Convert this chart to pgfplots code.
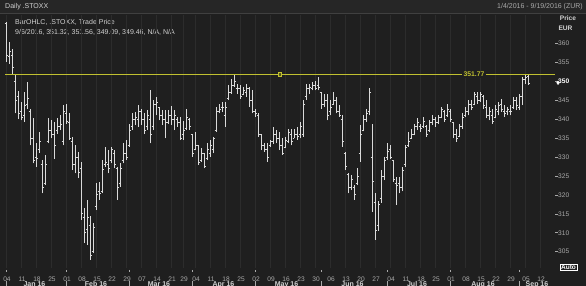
\documentclass[border=0pt]{standalone}
\usepackage{pgfplots}
\pgfplotsset{compat=1.18}
\usepackage{pgfplotstable}
\usepackage{fontspec}
\setmainfont{Liberation Sans}
\definecolor{bg}{RGB}{31,31,31}
\definecolor{hdr}{RGB}{38,38,38}
\definecolor{gridc}{RGB}{44,44,44}
\definecolor{barc}{RGB}{218,218,218}
\definecolor{lbl}{RGB}{170,170,170}
\definecolor{txt}{RGB}{210,210,210}
\definecolor{yel}{RGB}{192,192,48}
\pgfdeclareplotmark{otick}{\pgfpathmoveto{\pgfpoint{-1.5pt}{0pt}}\pgfpathlineto{\pgfpoint{0pt}{0pt}}\pgfusepathqstroke}
\pgfdeclareplotmark{ctick}{\pgfpathmoveto{\pgfpoint{0pt}{0pt}}\pgfpathlineto{\pgfpoint{1.5pt}{0pt}}\pgfusepathqstroke}
\pgfplotstableread{
i O H L C
0 365.2 365.6 355.1 356.8
1 356.5 360.3 354.6 357.8
2 356.8 358.6 352.0 353.6
3 350.0 351.6 341.5 345.0
4 346.0 347.5 340.0 341.5
5 342.0 344.5 339.7 340.5
6 341.0 347.2 339.3 343.5
7 344.0 349.8 342.8 345.5
8 342.0 342.8 333.1 335.0
9 335.0 340.2 328.3 329.0
10 330.0 333.6 327.4 329.5
11 332.0 336.7 331.0 334.0
12 328.0 329.2 320.4 322.0
13 323.0 330.5 322.6 328.0
14 334.0 340.2 333.6 337.0
15 337.0 339.7 334.9 336.0
16 336.0 339.3 329.6 333.0
17 337.0 340.2 336.2 338.0
18 338.0 341.0 337.1 338.5
19 334.0 343.7 333.1 342.0
20 341.5 344.1 338.8 339.5
21 339.0 341.5 334.5 335.0
22 334.0 335.3 326.6 328.0
23 328.0 333.1 325.7 330.0
24 330.0 331.4 324.4 326.0
25 327.0 328.8 313.4 315.0
26 314.0 316.5 307.3 310.0
27 311.0 318.7 306.8 314.0
28 312.0 314.3 302.9 304.0
29 305.0 312.5 304.6 311.5
30 317.0 323.1 316.0 320.0
31 321.0 323.5 318.7 320.5
32 321.0 329.2 320.4 326.6
33 328.0 332.7 327.4 328.5
34 328.0 331.8 325.7 327.0
35 329.0 332.7 328.3 332.0
36 331.0 331.8 327.0 328.0
37 327.0 327.4 318.7 322.0
38 323.0 328.3 322.2 327.0
39 329.0 333.6 328.3 331.0
40 331.0 334.5 329.2 330.0
41 333.0 338.8 332.7 337.0
42 338.0 341.5 337.1 340.0
43 340.0 341.9 338.4 340.5
44 340.0 343.7 338.0 342.0
45 342.0 342.8 338.4 340.0
46 340.0 341.5 336.2 337.0
47 338.0 342.4 337.1 341.0
48 340.0 347.6 333.6 336.0
49 338.0 345.0 337.1 344.0
50 344.0 345.9 341.0 344.5
51 343.0 343.2 339.7 341.0
52 341.0 342.4 338.4 340.0
53 340.0 342.4 334.9 339.0
54 339.0 342.4 338.8 341.0
55 341.0 343.4 338.4 340.0
56 340.0 342.4 337.1 341.0
57 340.0 340.6 338.0 339.0
58 339.0 340.6 334.5 335.0
59 336.0 339.5 334.5 337.0
60 337.5 342.8 337.1 340.5
61 340.0 340.2 337.1 338.0
62 336.0 336.2 330.1 331.0
63 332.0 336.7 331.8 333.0
64 333.0 333.1 327.9 328.5
65 329.0 332.3 328.8 331.0
66 331.0 331.0 327.0 327.5
67 329.5 333.6 329.2 332.0
68 331.0 334.5 330.1 333.0
69 332.0 335.3 331.0 335.0
70 337.0 343.2 336.7 342.0
71 342.0 344.1 341.5 342.5
72 343.0 344.5 341.9 343.0
73 341.0 344.5 338.0 343.0
74 345.5 348.9 345.0 347.0
75 347.0 350.7 346.7 349.0
76 349.0 351.6 348.5 350.0
77 348.0 349.4 346.7 348.0
78 348.0 348.9 345.4 346.0
79 346.5 348.5 346.3 347.5
80 347.0 349.4 345.9 348.0
81 348.0 348.5 343.2 345.0
82 345.0 347.6 341.5 342.0
83 342.0 342.8 340.6 341.5
84 341.0 341.5 335.3 336.0
85 336.0 336.2 331.8 333.0
86 333.0 333.6 331.4 332.0
87 332.0 333.6 328.8 330.0
88 333.0 334.5 332.7 334.0
89 334.0 338.0 333.5 336.0
90 336.0 337.1 333.6 335.0
91 335.0 336.7 331.8 333.0
92 333.0 334.9 330.5 331.0
93 332.5 335.3 332.3 334.5
94 334.0 337.5 333.6 336.5
95 336.0 337.5 333.1 334.0
96 335.0 337.5 334.9 336.0
97 336.0 338.0 334.5 335.5
98 336.0 339.3 334.9 338.0
99 336.0 345.0 335.3 344.0
100 346.0 349.4 345.0 348.0
101 348.0 349.4 346.7 348.5
102 348.0 349.8 347.6 349.0
103 349.0 350.2 347.6 348.0
104 349.0 351.1 347.6 348.5
105 347.0 347.2 342.8 344.0
106 344.0 346.7 343.2 345.0
107 345.0 346.7 339.7 341.0
108 342.0 345.0 341.0 343.0
109 344.0 347.2 343.7 345.0
110 345.0 345.9 341.5 342.0
111 342.0 343.7 340.6 341.0
112 340.0 341.0 332.7 334.0
113 331.0 331.4 326.6 327.5
114 325.5 325.7 320.4 322.0
115 322.0 325.3 321.3 324.0
116 322.0 322.6 318.7 320.0
117 323.0 327.0 322.6 325.0
118 331.0 338.4 328.8 336.0
119 337.0 341.0 336.8 340.0
120 340.0 342.8 339.3 341.5
121 342.0 348.1 341.0 347.0
122 330.0 338.8 315.6 323.5
123 318.0 320.4 308.1 310.5
124 312.0 318.5 310.5 317.5
125 319.0 326.6 317.8 325.0
126 325.0 330.1 323.9 329.0
127 330.0 333.6 329.2 331.5
128 332.0 333.1 329.6 330.0
129 329.0 329.2 323.5 324.0
130 323.0 324.8 317.4 322.5
131 323.0 324.8 320.4 322.0
132 322.0 327.4 320.9 326.5
133 328.0 333.1 327.4 332.5
134 333.0 336.7 332.7 334.0
135 335.0 337.5 334.8 336.0
136 336.0 338.8 335.8 338.0
137 338.0 340.2 337.1 339.0
138 338.0 338.8 336.7 337.5
139 338.0 340.6 337.6 339.5
140 338.0 338.4 335.3 336.0
141 337.0 339.7 336.6 339.0
142 339.0 341.0 338.4 340.0
143 340.0 340.6 338.0 339.0
144 339.0 341.0 338.8 340.5
145 340.5 343.2 340.2 342.5
146 342.0 342.4 339.3 340.0
147 341.0 344.1 340.6 342.5
148 342.0 342.8 339.3 340.0
149 339.0 339.3 334.9 336.0
150 336.0 337.5 334.0 335.0
151 335.5 338.8 335.3 338.0
152 338.0 341.5 337.5 340.5
153 341.0 343.2 340.6 342.0
154 342.0 345.0 341.0 344.0
155 344.0 345.0 342.4 343.0
156 344.0 347.2 343.7 346.5
157 346.0 347.2 344.1 345.0
158 345.0 347.2 344.5 346.5
159 346.0 346.3 342.8 343.5
160 343.0 345.0 340.2 341.0
161 341.0 343.2 339.7 342.0
162 341.0 342.8 338.8 339.5
163 340.5 343.7 340.2 342.5
164 342.0 344.5 341.0 343.5
165 344.0 345.4 341.9 342.5
166 342.0 343.7 340.6 341.5
167 342.0 343.2 341.0 342.5
168 342.0 343.7 341.0 342.0
169 343.0 345.9 342.8 345.0
170 345.0 345.9 342.4 343.5
171 343.0 346.7 342.4 346.0
172 346.0 351.1 343.7 350.5
173 350.5 351.77 349.4 351.0
174 351.32 351.56 349.09 349.46
}\ohlc
\begin{document}
\begin{tikzpicture}[x=1pt,y=1pt]
\clip (0,0) rectangle (586,286);
\fill[bg] (0,0) rectangle (586,286);
\fill[hdr] (0,272.5) rectangle (586,286);
\draw[black!75, line width=0.6pt] (0,272.5) -- (586,272.5);
\node[anchor=west, text=txt, font=\fontsize{7}{8}\selectfont, inner sep=0] at (5,279.3) {Daily .STOXX};
\node[anchor=east, text=lbl, font=\fontsize{7}{8}\selectfont, inner sep=0] at (583,279.3) {1/4/2016 - 9/19/2016 (ZUR)};
\node[text=txt, font=\bfseries\fontsize{6.6}{8}\selectfont, inner sep=0] at (568,268) {Price};
\node[text=txt, font=\bfseries\fontsize{6.6}{8}\selectfont, inner sep=0] at (565.5,258) {EUR};
\node[anchor=west, text=txt, font=\fontsize{7}{8}\selectfont, inner sep=0] at (15,263.3) {BarOHLC, .STOXX, Trade Price};
\node[anchor=west, text=txt, font=\fontsize{7}{8}\selectfont, inner sep=0] at (15,253.7) {9/6/2016, 351.32, 351.56, 349.09, 349.46, N/A, N/A};
\node[draw=white, line width=0.6pt, text=white, font=\bfseries\fontsize{6.5}{7}\selectfont, inner sep=1pt] at (568.5,18.5) {Auto};
\begin{axis}[
  at={(0pt,18pt)}, anchor=south west,
  width=555pt, height=253pt, scale only axis,
  xmin=-2, xmax=183, ymin=300.7, ymax=367.5,
  clip=false,
  axis line style={draw=none},
  /pgf/number format/assume math mode=true,
  ytick={305,310,...,345,355,360},
  yticklabel pos=right, ytick pos=right,
  tick align=outside, major tick length=3pt,
  y tick style={lbl, line width=0.6pt},
  yticklabel style={font=\fontsize{6.6}{7}\selectfont, text=lbl, anchor=west, inner sep=0pt, xshift=0pt},
  extra y ticks={350},
  extra y tick style={yticklabel style={text=white, font=\bfseries\fontsize{6.6}{7}\selectfont}},
  xtick={0,5,10,15,20,25,30,35,40,45,50,55,59,63,68,73,78,83,88,93,98,103,108,113,118,123,128,133,138,143,148,153,158,163,168,173,178},
  xticklabels={04,11,18,25,01,08,15,22,29,07,14,21,29,04,11,18,25,02,09,16,23,30,06,13,20,27,04,11,18,25,01,08,15,22,29,05,12},
  x tick style={draw=none},
  xticklabel style={font=\fontsize{6.6}{7}\selectfont, text=lbl, anchor=north, inner sep=0pt, yshift=-6pt, xshift=1pt},
  xmajorgrids, grid style={gridc, line width=0.6pt},
]
\addplot[barc, line width=0.9pt, mark=none, quiver={u=0, v=\thisrow{H}-\thisrow{L}}] table[x=i, y=L] {\ohlc};
\addplot[barc, only marks, mark=otick, mark options={line width=0.9pt}] table[x=i, y=O] {\ohlc};
\addplot[barc, only marks, mark=ctick, mark options={line width=0.9pt}] table[x=i, y=C] {\ohlc};
\addplot[yel, line width=1.1pt, mark=none] coordinates {(-0.3,351.77) (183,351.77)};
\addplot[only marks, mark=square*, mark size=1.9pt, mark options={draw=yel, fill=yel!45!black, line width=0.8pt}] coordinates {(91.3,351.77)};
\addplot[only marks, mark=diamond*, mark size=1.8pt, white] coordinates {(184,349.6)};
\node[fill=bg, text=yel, font=\bfseries\fontsize{6.8}{7}\selectfont, inner sep=1.2pt] at (axis cs:156,351.77) {351.77};
\pgfplotsinvokeforeach{0,20,41,62,83,105,127,148,171}{
  \draw[lbl, line width=0.6pt] (axis cs:#1,300.7) ++(0pt,-2pt) -- ++(0pt,-2pt);
  \draw[lbl, line width=0.6pt] (axis cs:#1,300.7) ++(0pt,-13pt) -- ++(0pt,-6pt);
}
\node[anchor=north, inner sep=0pt, text=txt, font=\bfseries\fontsize{7}{8}\selectfont] at ([yshift=-13.5pt]axis cs:9.5,300.7) {Jan 16};
\node[anchor=north, inner sep=0pt, text=txt, font=\bfseries\fontsize{7}{8}\selectfont] at ([yshift=-13.5pt]axis cs:30,300.7) {Feb 16};
\node[anchor=north, inner sep=0pt, text=txt, font=\bfseries\fontsize{7}{8}\selectfont] at ([yshift=-13.5pt]axis cs:51,300.7) {Mar 16};
\node[anchor=north, inner sep=0pt, text=txt, font=\bfseries\fontsize{7}{8}\selectfont] at ([yshift=-13.5pt]axis cs:72.5,300.7) {Apr 16};
\node[anchor=north, inner sep=0pt, text=txt, font=\bfseries\fontsize{7}{8}\selectfont] at ([yshift=-13.5pt]axis cs:93.5,300.7) {May 16};
\node[anchor=north, inner sep=0pt, text=txt, font=\bfseries\fontsize{7}{8}\selectfont] at ([yshift=-13.5pt]axis cs:115.5,300.7) {Jun 16};
\node[anchor=north, inner sep=0pt, text=txt, font=\bfseries\fontsize{7}{8}\selectfont] at ([yshift=-13.5pt]axis cs:137,300.7) {Jul 16};
\node[anchor=north, inner sep=0pt, text=txt, font=\bfseries\fontsize{7}{8}\selectfont] at ([yshift=-13.5pt]axis cs:159,300.7) {Aug 16};
\node[anchor=north, inner sep=0pt, text=txt, font=\bfseries\fontsize{7}{8}\selectfont] at ([yshift=-13.5pt]axis cs:177,300.7) {Sep 16};
\end{axis}
\end{tikzpicture}
\end{document}
